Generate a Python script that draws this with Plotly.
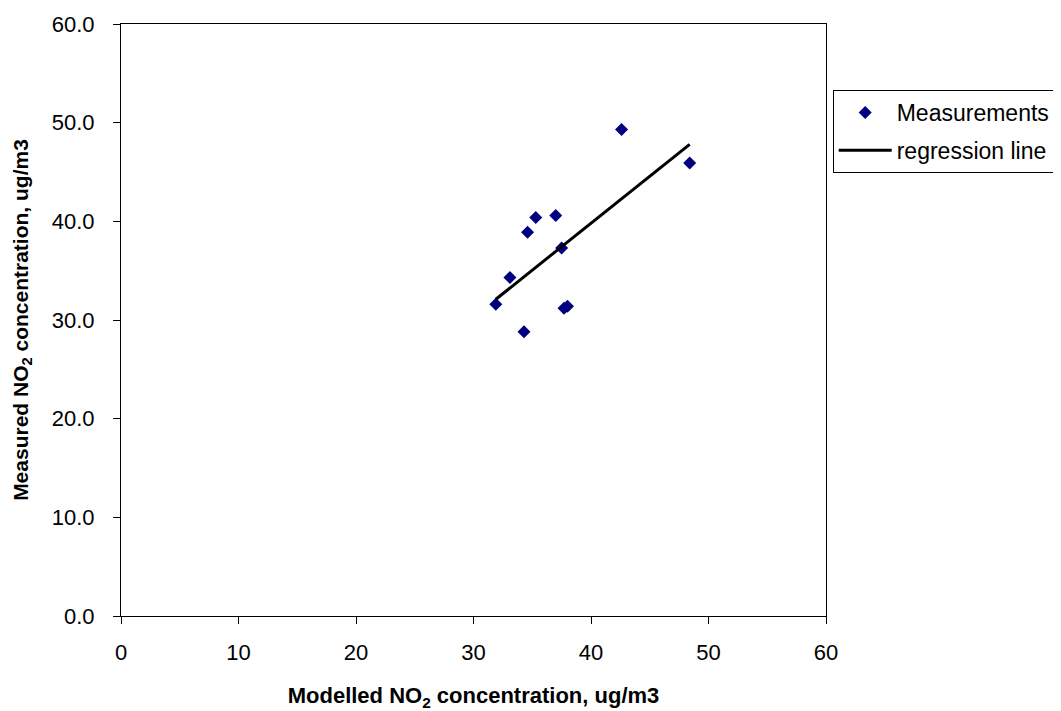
import plotly.graph_objects as go

# Data
modelled = [31.9, 33.1, 34.3, 34.6, 35.3, 37.0, 37.5, 37.7, 38.0, 42.6, 48.4]
measured = [31.6, 34.3, 28.8, 38.9, 40.4, 40.6, 37.3, 31.2, 31.4, 49.3, 45.9]
reg_x = [31.9, 48.4]
reg_y = [32.1, 47.8]

x_ticks = [0, 10, 20, 30, 40, 50, 60]
y_ticks = [0, 10, 20, 30, 40, 50, 60]

FONT = "Liberation Sans, Arial, sans-serif"

fig = go.Figure()
fig.add_trace(go.Scatter(
    x=modelled, y=measured, mode="markers", name="Measurements",
    legendgroup="a",
    marker=dict(symbol="diamond", color="#000080", size=10,
                line=dict(width=0)),
))
fig.add_trace(go.Scatter(
    x=reg_x, y=reg_y, mode="lines", name="regression line",
    legendgroup="b",
    line=dict(color="black", width=3),
))

# the page body adds an 8px offset, so the figure is sized to compensate
fig.update_layout(
    width=1053, height=703,
    margin=dict(l=113, r=235, t=16, b=95, autoexpand=False),
    paper_bgcolor="white", plot_bgcolor="white",
    font=dict(family=FONT, size=22, color="black"),
    showlegend=True,
    legend=dict(x=1.0095, y=0.8885, xanchor="left", yanchor="top",
                bordercolor="black", borderwidth=1, bgcolor="white",
                font=dict(family=FONT, size=23, color="black"),
                tracegroupgap=5, itemwidth=53),
    xaxis=dict(
        range=[0, 60], tickvals=x_ticks, ticktext=[str(v) for v in x_ticks],
        showgrid=False, zeroline=False, showline=True, linecolor="black",
        linewidth=1, mirror=True, ticks="outside", ticklen=7,
        tickcolor="black", automargin=False, ticklabelstandoff=10,
        tickfont=dict(family=FONT, size=22),
        title=dict(text="<b>Modelled NO<sub>2</sub> concentration, ug/m3</b>",
                   font=dict(family=FONT, size=22), standoff=35),
    ),
    yaxis=dict(
        range=[0, 60], tickvals=y_ticks, ticktext=[f"{v:.1f}" for v in y_ticks],
        showgrid=False, zeroline=False, showline=True, linecolor="black",
        linewidth=1, mirror=True, ticks="outside", ticklen=7,
        tickcolor="black", automargin=False, ticklabelstandoff=14,
        tickfont=dict(family=FONT, size=22),
        title=dict(text="<b>Measured NO<sub>2</sub> concentration, ug/m3</b>",
                   font=dict(family=FONT, size=21), standoff=17),
    ),
)

fig.write_html("out.html")
